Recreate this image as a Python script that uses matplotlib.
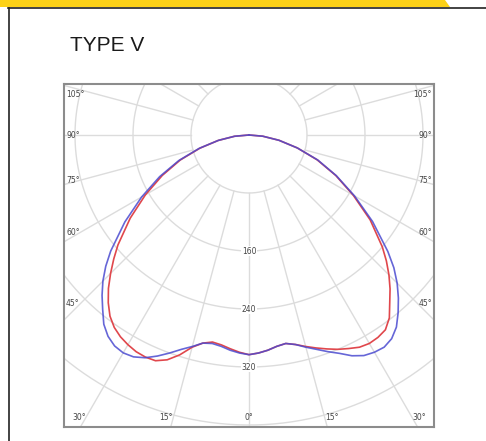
import numpy as np
import matplotlib
matplotlib.use("Agg")
import matplotlib.pyplot as plt
from matplotlib.patches import Polygon

angles = [0, 2.5, 5, 7.5, 10, 12.5, 15, 17.5, 20, 22.5, 25, 27.5, 30, 32.5, 35,
          37.5, 40, 42.5, 45, 47.5, 50, 55, 60, 65, 70, 75, 80, 85, 90]
blue_left = [303, 301, 298, 294, 292, 294, 302, 310, 320, 330, 339, 345, 347, 345, 339,
             329, 314, 300, 285, 268, 249, 209, 171, 136, 103, 71, 43, 20, 0]
blue_right = [303, 301, 298, 294, 292, 296, 303, 310, 318, 326, 336, 343, 346, 347, 343,
              334, 320, 305, 289, 271, 250, 208, 168, 133, 101, 69, 42, 19, 0]
red_left = [303, 300, 296, 292, 290, 294, 303, 318, 330, 337, 338, 337, 334, 330, 324,
            315, 302, 287, 270, 253, 236, 200, 165, 132, 101, 70, 43, 20, 0]
red_right = [303, 301, 298, 294, 292, 296, 302, 308, 314, 320, 325, 330, 332, 331, 328,
             318, 302, 288, 273, 257, 240, 204, 166, 132, 100, 69, 42, 19, 0]

rings = [80, 160, 240, 320, 400, 480, 560]
ring_labels = [160, 240, 320]
spokes = list(range(0, 360, 15))
side_labels = [45, 60, 75, 90, 105]
bottom_labels = [30, 15, 0]

title = "TYPE V"


def polar_xy(theta_deg, r, side):
    t = np.radians(np.asarray(theta_deg, dtype=float))
    r = np.asarray(r, dtype=float)
    return side * r * np.sin(t), -r * np.cos(t)


W, H = 486, 441
fig = plt.figure(figsize=(W / 100, H / 100), dpi=100)

# page decoration (pixel coordinates)
bg = fig.add_axes([0, 0, 1, 1])
bg.set_xlim(0, W)
bg.set_ylim(H, 0)
bg.axis("off")
bg.add_patch(Polygon([[0, 0], [445, 0], [450, 7], [0, 7]], closed=True,
                     facecolor="#fcd117", edgecolor="none"))
bg.plot([8, W], [7.8, 7.8], color="#222222", lw=1.2)
bg.plot([8.5, 8.5], [7.8, H], color="#222222", lw=1.2)
bg.text(70, 51, title, fontsize=15, family="Liberation Sans", color="#1a1a1a",
        ha="left", va="baseline")

# plot box geometry in pixels: center of the polar diagram and scale (px per cd)
cx, cy, s = 249, 135, 0.725
left, right, top, bottom = 64, 434, 83.5, 427
ax = fig.add_axes([left / W, 1 - bottom / H, (right - left) / W, (bottom - top) / H])
ax.set_xlim((left - cx) / s, (right - cx) / s)
ax.set_ylim((cy - bottom) / s, (cy - top) / s)
ax.set_xticks([])
ax.set_yticks([])
for sp in ax.spines.values():
    sp.set_color("#8c8c8c")
    sp.set_linewidth(1.5)

grid_c = "#dcdcdc"
th = np.linspace(0, 2 * np.pi, 400)
for r in rings:
    ax.plot(r * np.sin(th), r * np.cos(th), color=grid_c, lw=1.0, zorder=1)
for a in spokes:
    x, y = polar_xy([a, a], [rings[0], 900], 1)
    ax.plot(x, y, color=grid_c, lw=1.0, zorder=1)

lab_kw = dict(fontsize=5.5, color="#444444", family="DejaVu Sans", zorder=3)
for r in ring_labels:
    ax.text(0, -r, str(r), ha="center", va="center",
            bbox=dict(facecolor="white", edgecolor="none", pad=0.6), **lab_kw)

xl, xr = ax.get_xlim()
yb, yt = ax.get_ylim()
# side labels sit where the spoke passes the right end of the label
xin = 16 / s
for a in side_labels:
    yy = -(abs(xl) - xin) / np.tan(np.radians(a))
    yy = min(yy, yt - 11 / s)
    ax.text(xl + 2 / s, yy, f"{a}°", ha="left", va="center", **lab_kw)
    ax.text(xr - 2 / s, yy, f"{a}°", ha="right", va="center", **lab_kw)
ybl = yb + 9 / s
for a in bottom_labels:
    xx = abs(ybl) * np.tan(np.radians(a))
    if a == 0:
        ax.text(0, ybl, "0°", ha="center", va="center", **lab_kw)
    else:
        ax.text(-xx, ybl, f"{a}°", ha="right", va="center", **lab_kw)
        ax.text(xx, ybl, f"{a}°", ha="left", va="center", **lab_kw)

# the two measured curves
for vals_l, vals_r, col, al in [(red_left, red_right, "#e0474c", 1.0),
                                (blue_left, blue_right, "#4b4bd0", 0.85)]:
    xl_, yl_ = polar_xy(angles, vals_l, -1)
    xr_, yr_ = polar_xy(angles, vals_r, 1)
    x = np.concatenate([xl_[::-1], xr_[1:]])
    y = np.concatenate([yl_[::-1], yr_[1:]])
    ax.plot(x, y, color=col, lw=1.2, alpha=al, zorder=2)

fig.savefig("out.png", dpi=100)
